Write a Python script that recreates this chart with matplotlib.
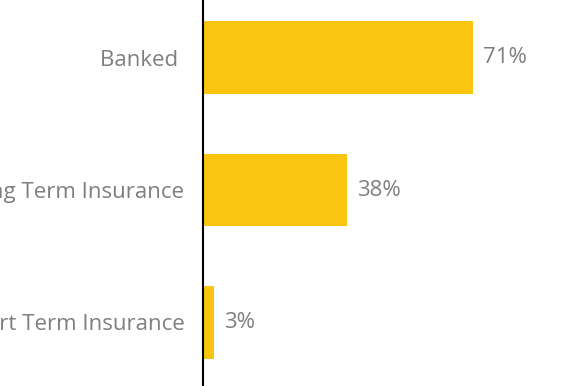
import matplotlib
matplotlib.use("Agg")
import matplotlib.pyplot as plt

categories = ["Banked ", "Long Term Insurance", "Short Term Insurance"]
values = [71, 38, 3]
value_labels = ["71%", "38%", "3%"]

plt.rcParams['font.family'] = ['Open Sans', 'DejaVu Sans']

fig = plt.figure(figsize=(5.82, 3.86), dpi=100)
W, H = 582, 386
ax = fig.add_axes([203 / W, 0, 1 - 203 / W, 1])

color = '#F9C510'
grey = '#7F7F7F'
ypos = list(range(len(categories)))
ax.barh(ypos, values, height=0.55, color=color)

ax.set_xlim(0, (W - 203) / 3.8)
ax.set_ylim((H - 57.5) / 132.5, -57.5 / 132.5)

ax.set_yticks(ypos)
ax.set_yticklabels(categories, fontsize=16, color=grey)
ax.tick_params(axis='y', length=0, pad=13.5)
ax.set_xticks([])

for s in ['top', 'right', 'bottom']:
    ax.spines[s].set_visible(False)
ax.spines['left'].set_linewidth(1.5)
ax.spines['left'].set_color('black')

for y, v, lab in zip(ypos, values, value_labels):
    ax.annotate(lab, (v, y), xytext=(7, 0), textcoords='offset points',
                va='center', ha='left', fontsize=16, color=grey)

fig.savefig("out.png", dpi=100)
